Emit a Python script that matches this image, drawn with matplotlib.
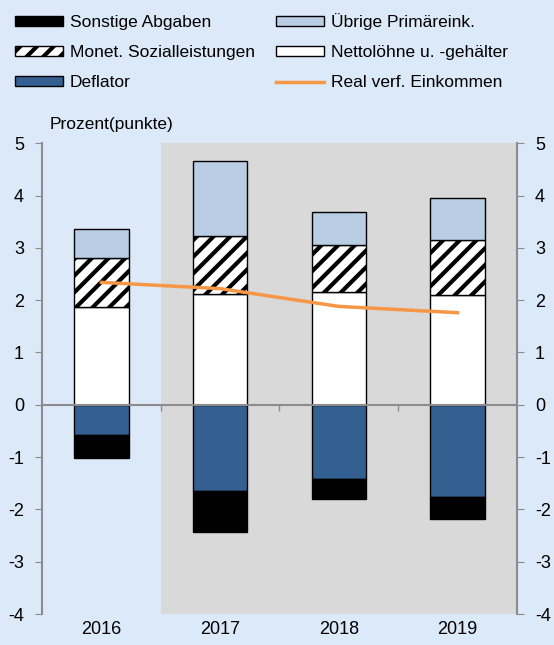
import matplotlib.pyplot as plt
import matplotlib.patches as mpatches
from matplotlib.lines import Line2D
from matplotlib.markers import TICKDOWN
import numpy as np

plt.rcParams['font.family'] = ['Liberation Sans', 'DejaVu Sans']
plt.rcParams['hatch.linewidth'] = 3.0
plt.rcParams['axes.unicode_minus'] = False

years = ["2016", "2017", "2018", "2019"]
netto = [1.86, 2.11, 2.15, 2.09]
monet = [0.95, 1.11, 0.91, 1.06]
uebrige = [0.55, 1.44, 0.63, 0.80]
deflator = [-0.58, -1.65, -1.42, -1.77]
sonstige = [-0.43, -0.79, -0.38, -0.42]
real = [2.34, 2.22, 1.88, 1.76]

bg = "#dce9f8"
c_defl = "#345f91"
c_ueb = "#b9cde4"
c_grey = "#d9d9d9"
c_orange = "#f79646"
c_spine = "#8c8c8c"

fig = plt.figure(figsize=(5.54, 6.45), dpi=100, facecolor=bg)
ax = fig.add_axes([0.076, 0.048, 0.857, 0.730])
ax.set_facecolor(bg)

x = np.arange(len(years))
w = 0.46

# shaded forecast area
ax.axvspan(0.5, 3.5, color=c_grey, zorder=0, lw=0)

netto_a = np.array(netto)
monet_a = np.array(monet)
ax.bar(x, netto, w, color="white", edgecolor="black", lw=1, zorder=2)
ax.bar(x, monet, w, bottom=netto_a, color="white", edgecolor="black",
       hatch="//", lw=1, zorder=2)
ax.bar(x, uebrige, w, bottom=netto_a + monet_a, color=c_ueb,
       edgecolor="black", lw=1, zorder=2)
ax.bar(x, deflator, w, color=c_defl, edgecolor="black", lw=1, zorder=2)
ax.bar(x, sonstige, w, bottom=np.array(deflator), color="black",
       edgecolor="black", lw=1, zorder=2)

ax.axhline(0, color=c_spine, lw=1.5, zorder=3)
ax.plot(x[1:] - 0.5, [0] * (len(x) - 1), ls="none", marker=TICKDOWN,
        ms=4, mew=1, color=c_spine, zorder=3)

ax.plot(x, real, color=c_orange, lw=2.5, zorder=4)

ax.set_xlim(-0.5, 3.5)
ax.set_ylim(-4, 5)
ax.set_yticks(range(-4, 6))
ax.set_xticks(x)
ax.set_xticklabels(years)
ax.tick_params(axis="x", length=0, labelsize=13, pad=5)
ax.tick_params(axis="y", direction="out", length=5, color=c_spine,
               labelsize=13, pad=8)
for s in ["top", "bottom", "right"]:
    ax.spines[s].set_visible(False)
ax.spines["left"].set_color(c_spine)
ax.spines["left"].set_linewidth(1.5)

ax2 = ax.twinx()
ax2.set_ylim(-4, 5)
ax2.set_yticks(range(-4, 6))
ax2.tick_params(axis="y", direction="out", length=5, color=c_spine,
                labelsize=13, pad=8)
for s in ["top", "bottom", "left"]:
    ax2.spines[s].set_visible(False)
ax2.spines["right"].set_color(c_spine)
ax2.spines["right"].set_linewidth(1.5)

fig.text(0.09, 0.800, "Prozent(punkte)", fontsize=12.5)

handles = [
    mpatches.Patch(facecolor="black", edgecolor="black"),
    mpatches.Patch(facecolor="white", edgecolor="black", hatch="//"),
    mpatches.Patch(facecolor=c_defl, edgecolor="black"),
    mpatches.Patch(facecolor=c_ueb, edgecolor="black"),
    mpatches.Patch(facecolor="white", edgecolor="black"),
    Line2D([0], [0], color=c_orange, lw=2.5),
]
labels = ["Sonstige Abgaben", "Monet. Sozialleistungen", "Deflator",
          "Übrige Primäreink.", "Nettolöhne u. -gehälter",
          "Real verf. Einkommen"]
fig.legend(handles, labels, ncol=2, loc="upper left",
           bbox_to_anchor=(-0.001, 1.004), frameon=False, fontsize=12.5,
           handlelength=2.75, handleheight=0.5, handletextpad=0.4,
           columnspacing=1.25, labelspacing=0.87)

fig.savefig("out.png", dpi=100, facecolor=bg)
